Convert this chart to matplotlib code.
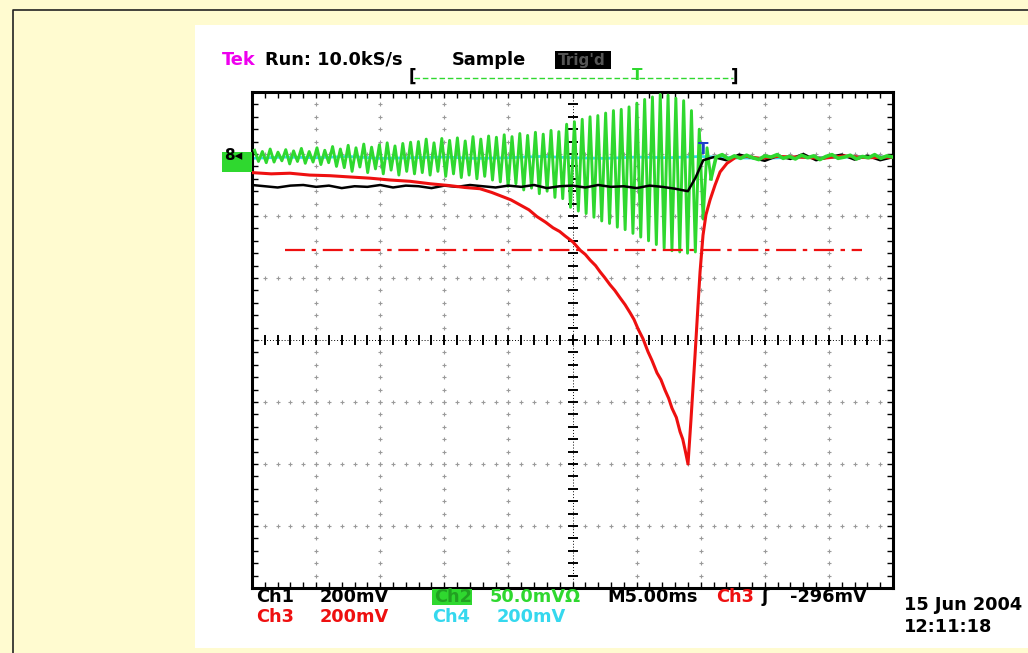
import numpy as np
import matplotlib
matplotlib.use("Agg")
import matplotlib.pyplot as plt
from matplotlib.patches import Rectangle
from matplotlib.lines import Line2D

#+++ Data (time in ms, 5 ms/div; level in screen divisions, centre = 0)
# Ch3 (red) - slow dip and sharp recovery
red_t = [0.0, 1.5, 2.96, 4.5, 6.08, 7.6, 9.2, 10.8, 12.32, 13.9, 15.44, 16.6, 17.78, 18.7, 19.58,
         20.2, 20.9, 21.6, 22.23, 22.9, 23.48, 24.0, 24.41, 25.04, 25.59, 26.0, 26.37, 26.8,
         27.15, 27.5, 27.93, 28.3, 28.71, 29.1, 29.49, 29.8, 30.11, 30.5, 30.89, 31.2, 31.59,
         31.9, 32.22, 32.5, 32.76, 33.1, 33.39, 33.6, 33.78, 34.01, 34.24, 34.56, 34.79, 34.95,
         35.18, 35.41, 35.73, 36.12, 36.51, 37.05, 37.68, 38.6, 39.63, 41.0, 42.75, 44.5, 46.2,
         48.0, 50.0]
red_v = [2.70, 2.68, 2.69, 2.66, 2.65, 2.63, 2.61, 2.58, 2.56, 2.52, 2.49, 2.46, 2.44, 2.38, 2.31,
         2.26, 2.18, 2.10, 1.99, 1.90, 1.81, 1.75, 1.68, 1.58, 1.45, 1.38, 1.29, 1.20,
         1.10, 1.01, 0.89, 0.80, 0.68, 0.57, 0.44, 0.33, 0.18, 0.02, -0.19, -0.33, -0.53,
         -0.64, -0.81, -0.94, -1.10, -1.25, -1.48, -1.60, -1.77, -2.00, -1.29, -0.24, 0.56, 1.10,
         1.69, 2.02, 2.26, 2.50, 2.71, 2.85, 2.94, 2.96, 2.93, 2.96, 2.95, 2.93, 2.97,
         2.94, 2.95]

# Ch1 (black) - one sample per ms up to 34 ms, then settles at the top trace level
black_main = [2.50, 2.48, 2.46, 2.49, 2.50, 2.47, 2.49, 2.45, 2.48, 2.47, 2.50, 2.46, 2.49, 2.48,
              2.45, 2.49, 2.47, 2.50, 2.48, 2.46, 2.49, 2.47, 2.50, 2.45, 2.48, 2.49, 2.46, 2.50,
              2.47, 2.48, 2.45, 2.49, 2.47, 2.44, 2.40]
black_tail_t = [34.6, 35.2, 36.0, 37.0, 38.0, 39.0, 40.0, 41.0, 42.0, 43.0, 44.0, 45.0, 46.0,
                47.0, 48.0, 49.0, 50.0]
black_tail_v = [2.62, 2.90, 2.95, 2.90, 2.99, 2.94, 2.89, 2.97, 2.92, 3.00, 2.90, 2.95, 2.99,
                2.91, 2.97, 2.90, 2.95]

# Ch2 (green) - oscillation peaks / troughs, growing until the dip, then quiet
green_hi = [3.06, 3.04, 3.08, 3.03, 3.07, 3.05, 3.09, 3.04, 3.10, 3.06,
            3.12, 3.08, 3.14, 3.10, 3.16, 3.11, 3.15, 3.18, 3.13, 3.17, 3.19,
            3.20, 3.24, 3.18, 3.25, 3.22, 3.26, 3.21, 3.28, 3.24, 3.29,
            3.27, 3.31, 3.28, 3.33, 3.30, 3.35, 3.32, 3.38, 3.36,
            3.48, 3.52, 3.56, 3.60, 3.62, 3.66, 3.70, 3.72, 3.76,
            3.82, 3.88, 3.92, 3.96, 3.95, 3.90, 3.86,
            3.70, 3.40, 3.10]
green_lo = [2.88, 2.86, 2.87, 2.89, 2.84, 2.88, 2.85, 2.87, 2.83, 2.86,
            2.80, 2.78, 2.72, 2.79, 2.70, 2.76, 2.68, 2.74, 2.66, 2.72, 2.68,
            2.70, 2.66, 2.72, 2.64, 2.68, 2.62, 2.66, 2.60, 2.64, 2.58,
            2.55, 2.48, 2.52, 2.42, 2.45, 2.36, 2.40, 2.30, 2.28,
            2.14, 2.08, 2.04, 1.98, 1.92, 1.88, 1.82, 1.78, 1.72,
            1.66, 1.60, 1.54, 1.48, 1.44, 1.42, 1.40,
            1.42, 1.95, 2.60]
green_tail = [2.95, 2.99, 2.92, 2.97, 2.93, 2.98, 2.94, 2.91, 2.97, 2.95, 2.99, 2.93, 2.96,
              2.92, 2.98, 2.94, 2.97, 2.91, 2.96, 2.99, 2.93, 2.95, 2.98, 2.92, 2.96, 2.94,
              2.99, 2.93, 2.97, 2.95]

# Ch4 (cyan) - flat
cyan_v = [2.93, 2.95, 2.94, 2.96, 2.93, 2.94, 2.95, 2.93, 2.94, 2.96, 2.94, 2.93, 2.95, 2.94,
          2.96, 2.94, 2.93, 2.95, 2.94, 2.96, 2.95]

trig_level = 1.45
trig_span = [2.6, 47.6]
#---

#+++ Figure and background
W, H = 1028, 653
fig = plt.figure(figsize=(W / 100, H / 100), dpi=100)
fig.patch.set_facecolor("#FFFBD0")

def fx(x):
    return x / W

def fy(y):
    return 1 - y / H

fig.add_artist(Line2D([fx(13), fx(13), fx(W + 5)], [fy(H + 5), fy(10), fy(10)],
                      transform=fig.transFigure, color="#222222", lw=1.2, zorder=-10))
fig.add_artist(Rectangle((fx(195), fy(648)), fx(W - 195 + 5), (648 - 25) / H,
                         transform=fig.transFigure, facecolor="white", edgecolor="none",
                         zorder=-10))
#---

#+++ Graticule axes
ax = fig.add_axes([fx(252), fy(588), fx(893 - 252), (588 - 92) / H])
ax.set_xlim(0, 50)
ax.set_ylim(-4, 4)
ax.set_facecolor("white")
for s in ax.spines.values():
    s.set_linewidth(2.2)
    s.set_color("black")
ax.set_xticks(np.arange(0, 50.01, 1.0))
ax.set_yticks(np.arange(-4, 4.01, 0.2))
ax.tick_params(direction="in", length=4, width=1, top=True, right=True,
               labelbottom=False, labelleft=False)

xs_minor = np.arange(0, 50.01, 1.0)
ys_minor = np.arange(-4, 4.01, 0.2)
for xv in np.arange(5, 50, 5):
    if xv == 25:
        continue
    ax.plot(np.full_like(ys_minor, xv), ys_minor, ls="none", marker="+", ms=3.5,
            mew=0.8, color="#9a9a9a", zorder=1)
for yv in np.arange(-3, 4, 1):
    if yv == 0:
        continue
    ax.plot(xs_minor, np.full_like(xs_minor, yv), ls="none", marker="+", ms=3.5,
            mew=0.8, color="#9a9a9a", zorder=1)
ax.plot([25, 25], [-4, 4], color="black", lw=0.7, ls=(0, (1, 2)), zorder=1)
ax.plot([0, 50], [0, 0], color="black", lw=0.7, ls=(0, (1, 2)), zorder=1)
ax.plot(np.full_like(ys_minor, 25), ys_minor, ls="none", marker="_", ms=7, mew=1.4,
        color="black", zorder=1)
ax.plot(xs_minor, np.zeros_like(xs_minor), ls="none", marker="|", ms=7, mew=1.4,
        color="black", zorder=1)
#---

#+++ Traces
cyan_t = np.linspace(0, 50, len(cyan_v))
ax.plot(cyan_t, cyan_v, color="#35D8EE", lw=2.0, zorder=2)

green_ext = np.column_stack([green_hi, green_lo]).ravel()
green_t1 = np.linspace(0.2, 35.8, len(green_ext))
green_t2 = np.linspace(36.2, 50, len(green_tail))
ax.plot(green_t1, green_ext, color="#2FD82F", lw=2.1, zorder=3)

black_t = np.concatenate([np.arange(len(black_main)), black_tail_t])
black_v = np.concatenate([black_main, black_tail_v])
ax.plot(black_t, black_v, color="black", lw=1.8, zorder=4)

ax.plot(red_t, red_v, color="#EE1010", lw=2.2, zorder=5)
ax.plot(trig_span, [trig_level, trig_level], color="#EE1010", lw=1.6,
        ls=(0, (9, 3, 2, 3)), zorder=5)

# quiet part of ch2 sits on top of the settled traces
ax.plot(np.concatenate([[green_t1[-1]], green_t2]),
        np.concatenate([[green_ext[-1]], green_tail]),
        color="#2FD82F", lw=2.6, zorder=6)
#---

#+++ Screen annotations
bold = dict(fontsize=12.8, fontweight="bold", family="DejaVu Sans", va="center")

fig.text(fx(222), fy(60), "Tek", color="#EE00EE", **bold)
fig.text(fx(265), fy(60), "Run: 10.0kS/s", color="black", **bold)
fig.text(fx(452), fy(60), "Sample", color="black", **bold)
fig.add_artist(Rectangle((fx(555), fy(69)), fx(56), 18 / H, transform=fig.transFigure,
                         facecolor="black", edgecolor="none"))
fig.text(fx(558), fy(60), "Trig'd", color="#555555", fontsize=11, fontweight="bold",
         va="center")

# record position bar
fig.add_artist(Line2D([fx(414), fx(733)], [fy(78), fy(78)], transform=fig.transFigure,
                      color="#2FD82F", lw=1.0, ls=(0, (4, 2))))
fig.text(fx(409), fy(77), "[", color="black", fontsize=12, fontweight="bold", va="center")
fig.text(fx(731), fy(77), "]", color="black", fontsize=12, fontweight="bold", va="center")
fig.text(fx(637), fy(75), "T", color="#2FD82F", fontsize=11, fontweight="bold",
         va="center", ha="center")

# ground marker and trigger marker
fig.add_artist(Rectangle((fx(222), fy(172)), fx(30), 20 / H, transform=fig.transFigure,
                         facecolor="#2FD82F", edgecolor="none"))
fig.text(fx(224), fy(156), "8◂", color="black", fontsize=11, fontweight="bold", va="center")
fig.text(fx(703), fy(150), "T", color="#1F3FCC", fontsize=11, fontweight="bold",
         va="center", ha="center", zorder=10)

# bottom readout
fig.text(fx(256), fy(597), "Ch1", color="black", **bold)
fig.text(fx(320), fy(597), "200mV", color="black", **bold)
fig.add_artist(Rectangle((fx(432), fy(605)), fx(40), 16 / H, transform=fig.transFigure,
                         facecolor="#2FD82F", edgecolor="none"))
fig.text(fx(434), fy(597), "Ch2", color="#22A022", **bold)
fig.text(fx(490), fy(597), "50.0mVΩ", color="#2FD82F", **bold)
fig.text(fx(607), fy(597), "M5.00ms", color="black", **bold)
fig.text(fx(716), fy(597), "Ch3", color="#EE1010", **bold)
fig.text(fx(762), fy(597), "ʃ", color="black", **bold)
fig.text(fx(790), fy(597), "-296mV", color="black", **bold)

fig.text(fx(256), fy(617), "Ch3", color="#EE1010", **bold)
fig.text(fx(320), fy(617), "200mV", color="#EE1010", **bold)
fig.text(fx(432), fy(617), "Ch4", color="#35D8EE", **bold)
fig.text(fx(497), fy(617), "200mV", color="#35D8EE", **bold)

fig.text(fx(904), fy(605), "15 Jun 2004", color="black", **bold)
fig.text(fx(904), fy(627), "12:11:18", color="black", **bold)
#---

fig.savefig("out.png", dpi=100, facecolor=fig.get_facecolor())
